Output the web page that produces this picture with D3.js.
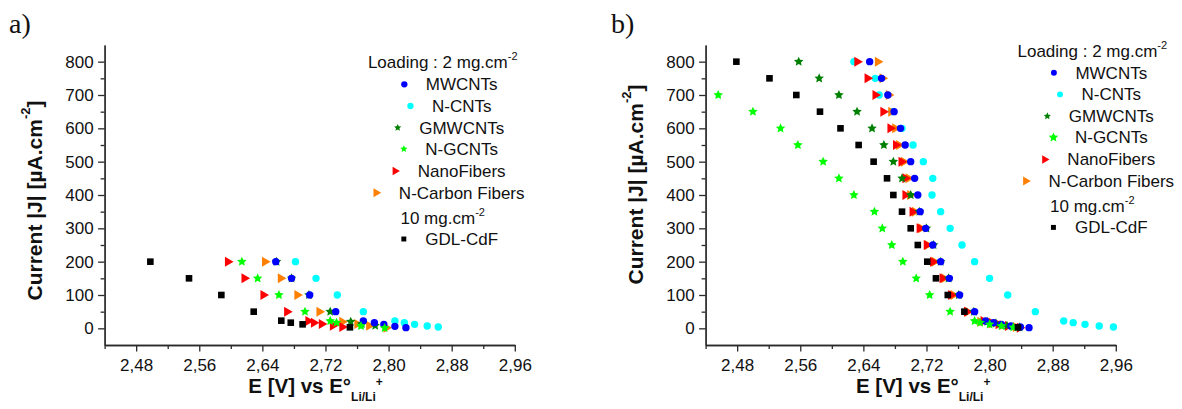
<!DOCTYPE html>
<html><head><meta charset="utf-8">
<script src="https://cdn.jsdelivr.net/npm/d3@7"></script>
<style>
html,body{margin:0;padding:0;background:#fff;}
svg{display:block;}
</style></head>
<body>
<svg id="chart" width="1182" height="409"></svg>
<script>
// ---------- DATA ----------
const xTicks = [2.48, 2.56, 2.64, 2.72, 2.80, 2.88, 2.96];
const xMinorTicks = [2.44, 2.52, 2.60, 2.68, 2.76, 2.84, 2.92];
const yTicks = [0, 100, 200, 300, 400, 500, 600, 700, 800];
const yMinorTicks = [50, 150, 250, 350, 450, 550, 650, 750];
const seriesNames = ["MWCNTs", "N-CNTs", "GMWCNTs", "N-GCNTs", "NanoFibers", "N-Carbon Fibers", "GDL-CdF"];

// panel a) : [E (V), |J| (µA.cm-2)]
const aMWCNTs   = [[2.657,200],[2.677,150],[2.700,100],[2.733,50],[2.768,22],[2.782,17],[2.794,12],[2.808,6],[2.822,2]];
const aNCNTs    = [[2.682,200],[2.708,150],[2.735,100],[2.768,50],[2.808,22],[2.820,17],[2.833,12],[2.849,7],[2.863,4]];
const aGMWCNTs  = [[2.658,200],[2.677,150],[2.699,100],[2.726,50],[2.752,20],[2.766,13],[2.783,8]];
const aNGCNTs   = [[2.614,200],[2.634,150],[2.661,100],[2.694,50],[2.726,22],[2.734,17],[2.765,7],[2.795,1]];
const aNanoFib  = [[2.598,200],[2.619,150],[2.643,100],[2.673,50],[2.700,22],[2.707,17],[2.717,13],[2.731,8],[2.743,4]];
const aNCarbon  = [[2.645,200],[2.665,150],[2.686,100],[2.714,50],[2.743,20],[2.762,13],[2.777,8],[2.799,2]];
const aGDL      = [[2.498,200],[2.547,150],[2.588,100],[2.629,50],[2.664,23],[2.676,17],[2.691,12],[2.751,3]];

// panel b)
const bMWCNTs   = [[2.648,800],[2.663,750],[2.671,700],[2.679,650],[2.687,600],[2.693,550],[2.700,500],[2.705,450],[2.709,400],[2.712,350],[2.719,300],[2.728,250],[2.738,200],[2.749,150],[2.762,100],[2.781,50],[2.795,22],[2.805,17],[2.815,12],[2.827,7],[2.839,4],[2.850,2]];
const bNCNTs    = [[2.628,800],[2.655,750],[2.660,700],[2.676,650],[2.689,600],[2.703,550],[2.716,500],[2.728,450],[2.727,400],[2.738,350],[2.750,300],[2.765,250],[2.781,200],[2.800,150],[2.823,100],[2.858,50],[2.894,22],[2.906,17],[2.921,12],[2.939,7],[2.957,4]];
const bGMWCNTs  = [[2.558,800],[2.584,750],[2.609,700],[2.632,650],[2.651,600],[2.666,550],[2.678,500],[2.689,450],[2.700,400],[2.711,350],[2.720,300],[2.729,250],[2.738,200],[2.748,150],[2.761,100],[2.780,50],[2.797,20],[2.808,15],[2.822,8],[2.838,3]];
const bNGCNTs   = [[2.456,700],[2.500,650],[2.535,600],[2.557,550],[2.589,500],[2.609,450],[2.628,400],[2.654,350],[2.664,300],[2.676,250],[2.690,200],[2.707,150],[2.724,100],[2.750,50],[2.781,22],[2.788,17],[2.800,12],[2.815,7],[2.830,3]];
const bNanoFib  = [[2.634,800],[2.647,750],[2.657,700],[2.667,650],[2.676,600],[2.683,550],[2.690,500],[2.695,450],[2.695,400],[2.704,350],[2.713,300],[2.722,250],[2.730,200],[2.742,150],[2.753,100],[2.773,50],[2.794,22],[2.804,17],[2.813,12],[2.825,7],[2.840,2]];
const bNCarbon  = [[2.660,800],[2.666,750],[2.674,700],[2.677,650],[2.682,600],[2.687,550],[2.693,500],[2.699,450],[2.701,400],[2.707,350],[2.715,300],[2.723,250],[2.732,200],[2.744,150],[2.756,100],[2.774,50],[2.790,20],[2.805,15],[2.818,10],[2.835,4]];
const bGDL      = [[2.479,800],[2.521,750],[2.555,700],[2.585,650],[2.611,600],[2.634,550],[2.653,500],[2.670,450],[2.678,400],[2.689,350],[2.700,300],[2.709,250],[2.721,200],[2.732,150],[2.747,100],[2.768,50],[2.836,3]];

// ---------- STYLE ----------
const styles = {
  "MWCNTs":          {shape:"circle",   color:"#0000ff"},
  "N-CNTs":          {shape:"circle",   color:"#00ffff"},
  "GMWCNTs":         {shape:"star",     color:"#008000"},
  "N-GCNTs":         {shape:"star",     color:"#00ff00"},
  "NanoFibers":      {shape:"triangle", color:"#ff0000"},
  "N-Carbon Fibers": {shape:"triangle", color:"#ff8000"},
  "GDL-CdF":         {shape:"square",   color:"#000000"}
};
const drawOrder = ["N-CNTs","N-Carbon Fibers","NanoFibers","GMWCNTs","MWCNTs","N-GCNTs","GDL-CdF"];

function shapePath(shape, s) {
  if (shape === "circle") { const r = 3.7*s; return `M${r},0A${r},${r} 0 1,1 ${-r},0A${r},${r} 0 1,1 ${r},0Z`; }
  if (shape === "square") { const h = 3.3*s; return `M${-h},${-h}H${h}V${h}H${-h}Z`; }
  if (shape === "triangle") { const w = 8.6*s, hh = 5*s; return `M${-w/2},${-hh}L${w/2},0L${-w/2},${hh}Z`; }
  if (shape === "star") {
    const R = 5*s, r = R*0.48; let p = "";
    for (let i = 0; i < 10; i++) {
      const a = -Math.PI/2 + i*Math.PI/5, rr = i%2 ? r : R;
      p += (i ? "L" : "M") + (rr*Math.cos(a)).toFixed(2) + "," + (rr*Math.sin(a)).toFixed(2);
    }
    return p + "Z";
  }
}

const svg = d3.select("#chart");
const FONT = "'Liberation Sans', Arial, sans-serif";

function drawPanel(cfg) {
  const x = d3.scaleLinear().domain([2.44, 2.96]).range([cfg.x0, cfg.x0 + 410.2]);
  const y = d3.scaleLinear().domain([-50, 850]).range([345, 45]);
  const g = svg.append("g");

  g.append("g").attr("transform", `translate(0,345)`)
    .call(d3.axisBottom(x).tickValues(xMinorTicks).tickSize(4).tickSizeOuter(0).tickFormat(""));
  g.append("g").attr("transform", `translate(${cfg.x0},0)`)
    .call(d3.axisLeft(y).tickValues(yMinorTicks).tickSize(4).tickSizeOuter(0).tickFormat(""));
  g.append("g").attr("class","xax").attr("transform", `translate(0,345)`)
    .call(d3.axisBottom(x).tickValues(xTicks).tickSize(6.5).tickSizeOuter(0).tickPadding(7)
      .tickFormat(d => d3.format(".2f")(d).replace(".", ",")));
  g.append("g").attr("class","yax").attr("transform", `translate(${cfg.x0},0)`)
    .call(d3.axisLeft(y).tickValues(yTicks).tickSize(6.5).tickSizeOuter(0).tickPadding(4.5).tickFormat(d3.format("d")));
  g.selectAll(".domain, .tick line").attr("stroke", "#2a2a2a").attr("stroke-width", 1.3);
  g.selectAll(".tick text").attr("font-family", FONT).attr("font-size", 17).attr("fill", "#111");

  drawOrder.forEach(name => {
    const st = styles[name];
    g.append("g").selectAll("path").data(cfg.data[name]).join("path")
      .attr("d", shapePath(st.shape, 1))
      .attr("transform", d => `translate(${x(d[0])},${y(d[1])})`)
      .attr("fill", st.color);
  });

  const yt = g.append("text")
    .attr("transform", `translate(${cfg.x0 - 71},${cfg.ytitleY}) rotate(-90)`)
    .attr("text-anchor", "middle").attr("dominant-baseline", "central")
    .attr("font-family", FONT).attr("font-weight", "bold").attr("font-size", 21).attr("fill", "#111");
  yt.append("tspan").text("Current |J| [µA.cm");
  yt.append("tspan").attr("font-size", 13).attr("dy", -9).text("-2");
  yt.append("tspan").attr("dy", 9).text("]");

  const xt = g.append("text")
    .attr("x", cfg.x0 + cfg.xtitleDx).attr("y", 393)
    .attr("font-family", FONT).attr("font-weight", "bold").attr("font-size", 20.5).attr("fill", "#111");
  xt.append("tspan").text("E [V] vs E°");
  xt.append("tspan").attr("font-size", 12).attr("dy", 8).text("Li/Li");
  xt.append("tspan").attr("font-size", 12).attr("dy", -15).text("+");

  svg.append("text").attr("x", cfg.labelX).attr("y", 33)
    .attr("font-family", "'Liberation Serif', 'Times New Roman', serif").attr("font-size", 28).attr("fill", "#111")
    .text(cfg.label);

  const L = cfg.legend;
  const lg = svg.append("g").attr("font-family", FONT).attr("font-size", 17).attr("fill", "#111");
  function headText(txt, cy) {
    const t = lg.append("text").attr("x", L.cx - 19).attr("y", cy + 6).attr("text-anchor", "middle");
    t.append("tspan").text(txt);
    t.append("tspan").attr("font-size", 11).attr("dy", -8).text("-2");
  }
  function legendRow(name, cy) {
    const t = lg.append("text").attr("x", L.cx).attr("y", cy + 6).attr("text-anchor", "middle").text(name);
    const w = t.node().getComputedTextLength();
    const st = styles[name];
    lg.append("path").attr("d", shapePath(st.shape, L.ms[name] || 0.8))
      .attr("transform", `translate(${L.cx - w/2 - 21.5},${cy})`).attr("fill", st.color);
  }
  headText("Loading : 2 mg.cm", L.y0);
  const rowOff = [22, 43.7, 65.4, 86.7, 108.7, 130.4];
  seriesNames.slice(0, 6).forEach((name, i) => legendRow(name, L.y0 + rowOff[i]));
  headText("10 mg.cm", L.y0 + 155.4);
  legendRow("GDL-CdF", L.y0 + 176.7);
}

drawPanel({
  x0: 104.6, label: "a)", labelX: 9, ytitleY: 200.5, xtitleDx: 143.7,
  data: {"MWCNTs":aMWCNTs,"N-CNTs":aNCNTs,"GMWCNTs":aGMWCNTs,"N-GCNTs":aNGCNTs,"NanoFibers":aNanoFib,"N-Carbon Fibers":aNCarbon,"GDL-CdF":aGDL},
  legend: {cx: 461.7, y0: 62.3, ms: {"MWCNTs":0.85,"N-CNTs":0.85,"GMWCNTs":0.75,"N-GCNTs":0.75,"NanoFibers":0.85,"N-Carbon Fibers":0.9,"GDL-CdF":0.75}}
});
drawPanel({
  x0: 705.6, label: "b)", labelX: 611, ytitleY: 184.5, xtitleDx: 150.4,
  data: {"MWCNTs":bMWCNTs,"N-CNTs":bNCNTs,"GMWCNTs":bGMWCNTs,"N-GCNTs":bNGCNTs,"NanoFibers":bNanoFib,"N-Carbon Fibers":bNCarbon,"GDL-CdF":bGDL},
  legend: {cx: 1111.3, y0: 50.7, ms: {"MWCNTs":0.8,"N-CNTs":0.8,"GMWCNTs":0.75,"N-GCNTs":1.0,"NanoFibers":0.85,"N-Carbon Fibers":0.9,"GDL-CdF":0.75}}
});
</script>
</body></html>
